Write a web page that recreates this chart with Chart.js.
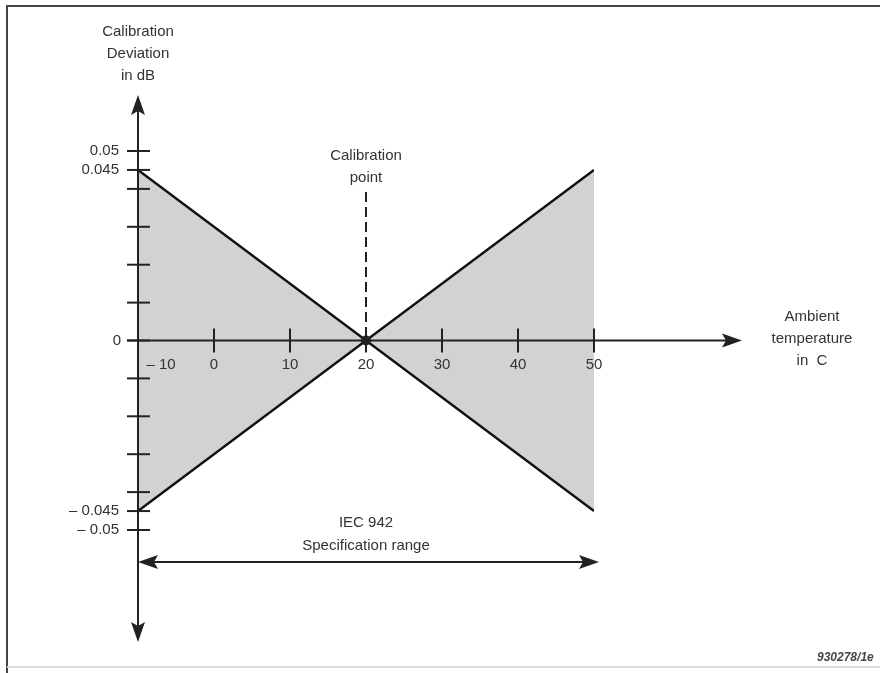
<!DOCTYPE html>
<html>
<head>
<meta charset="utf-8">
<script src="https://cdn.jsdelivr.net/npm/chart.js@4.4.1/dist/chart.umd.min.js"></script>
<style>
  html, body { margin: 0; padding: 0; background: #fff; }
  #wrap { width: 880px; height: 673px; position: relative; }
</style>
</head>
<body>
<div id="wrap"><canvas id="calChart"></canvas></div>
<script>
// Tolerance envelope of the calibration deviation
const envelopeTemps = [-10, 20, 50];
const upperLimit = [0.045, 0, 0.045];
const lowerLimit = [-0.045, 0, -0.045];

// Calibration point
const calibrationTemp = 20;
const calibrationDev = 0;

// Axis ticks
const xTickValues = [-10, 0, 10, 20, 30, 40, 50];
const xTickLabels = ['\u2013 10', '0', '10', '20', '30', '40', '50'];
const yLabeledTicks = [0.05, 0.045, 0, -0.045, -0.05];
const yTickLabels = ['0.05', '0.045', '0', '\u2013 0.045', '\u2013 0.05'];
const yMinorTicks = [0.04, 0.03, 0.02, 0.01, -0.01, -0.02, -0.03, -0.04];

// Specification range (IEC 942)
const specRange = [-10, 50];

const font = '"Liberation Sans", Arial, sans-serif';
const ink = '#222';
const textInk = '#333';

function arrowHead(ctx, x, y, dir, len, half) {
    // dir: 'up' | 'down' | 'left' | 'right'
    ctx.beginPath();
    if (dir === 'up') {
        ctx.moveTo(x, y); ctx.lineTo(x - half, y + len); ctx.lineTo(x, y + len * 0.8); ctx.lineTo(x + half, y + len);
    } else if (dir === 'down') {
        ctx.moveTo(x, y); ctx.lineTo(x - half, y - len); ctx.lineTo(x, y - len * 0.8); ctx.lineTo(x + half, y - len);
    } else if (dir === 'left') {
        ctx.moveTo(x, y); ctx.lineTo(x + len, y - half); ctx.lineTo(x + len * 0.8, y); ctx.lineTo(x + len, y + half);
    } else {
        ctx.moveTo(x, y); ctx.lineTo(x - len, y - half); ctx.lineTo(x - len * 0.8, y); ctx.lineTo(x - len, y + half);
    }
    ctx.closePath();
    ctx.fill();
}

const decorations = {
    id: 'decorations',
    afterDatasetsDraw(chart) {
        const ctx = chart.ctx;
        const xs = chart.scales.x;
        const ys = chart.scales.y;
        const x0 = xs.getPixelForValue(-10);
        const y0 = ys.getPixelForValue(0);

        ctx.save();
        ctx.strokeStyle = ink;
        ctx.fillStyle = ink;
        ctx.lineWidth = 2;

        // frame
        ctx.strokeStyle = '#444';
        ctx.beginPath();
        ctx.moveTo(7, 673);
        ctx.lineTo(7, 6);
        ctx.lineTo(880, 6);
        ctx.stroke();
        ctx.strokeStyle = '#ddd';
        ctx.beginPath();
        ctx.moveTo(7, 667);
        ctx.lineTo(880, 667);
        ctx.stroke();
        ctx.strokeStyle = ink;

        // y axis
        ctx.beginPath();
        ctx.moveTo(x0, 110);
        ctx.lineTo(x0, 628);
        ctx.stroke();
        arrowHead(ctx, x0, 95, 'up', 20, 7);
        arrowHead(ctx, x0, 642, 'down', 20, 7);

        // x axis
        ctx.beginPath();
        ctx.moveTo(x0 - 11, y0);
        ctx.lineTo(728, y0);
        ctx.stroke();
        arrowHead(ctx, 742, y0, 'right', 20, 7);

        // y ticks
        [...yLabeledTicks, ...yMinorTicks].forEach(v => {
            const py = ys.getPixelForValue(v);
            ctx.beginPath();
            ctx.moveTo(x0 - 11, py);
            ctx.lineTo(x0 + 12, py);
            ctx.stroke();
        });

        // x ticks
        xTickValues.forEach(v => {
            if (v === -10) return;
            const px = xs.getPixelForValue(v);
            ctx.beginPath();
            ctx.moveTo(px, y0 - 12);
            ctx.lineTo(px, y0 + 12);
            ctx.stroke();
        });

        // calibration dashed line
        const cx = xs.getPixelForValue(calibrationTemp);
        ctx.setLineDash([10, 5]);
        ctx.beginPath();
        ctx.moveTo(cx, 192);
        ctx.lineTo(cx, y0 + 12);
        ctx.stroke();
        ctx.setLineDash([]);

        // spec range arrow
        const sx1 = xs.getPixelForValue(specRange[0]);
        const sx2 = xs.getPixelForValue(specRange[1]) + 5;
        const sy = 562;
        ctx.beginPath();
        ctx.moveTo(sx1 + 12, sy);
        ctx.lineTo(sx2 - 12, sy);
        ctx.stroke();
        arrowHead(ctx, sx1, sy, 'left', 20, 7);
        arrowHead(ctx, sx2, sy, 'right', 20, 7);

        // calibration dot
        ctx.beginPath();
        ctx.arc(cx, ys.getPixelForValue(calibrationDev), 5, 0, Math.PI * 2);
        ctx.fill();

        // texts
        ctx.fillStyle = textInk;
        ctx.font = '15px ' + font;
        ctx.textBaseline = 'middle';

        ctx.textAlign = 'right';
        yLabeledTicks.forEach((v, i) => {
            ctx.fillText(yTickLabels[i], v === 0 ? 121 : 119, ys.getPixelForValue(v));
        });

        ctx.textAlign = 'center';
        xTickValues.forEach((v, i) => {
            const px = v === -10 ? 161 : xs.getPixelForValue(v);
            ctx.fillText(xTickLabels[i], px, 365);
        });

        ctx.fillText('Calibration', x0, 32);
        ctx.fillText('Deviation', x0, 54);
        ctx.fillText('in dB', x0, 76);

        ctx.fillText('Calibration', cx, 156);
        ctx.fillText('point', cx, 178);

        ctx.fillText('Ambient', 812, 317);
        ctx.fillText('temperature', 812, 339);
        ctx.fillText('in  C', 812, 361);

        ctx.fillText('IEC 942', cx, 523);
        ctx.fillText('Specification range', cx, 546);

        ctx.textAlign = 'left';
        ctx.fillStyle = '#444';
        ctx.font = 'italic bold 12px ' + font;
        ctx.fillText('930278/1e', 817, 658);

        ctx.restore();
    }
};

new Chart(document.getElementById('calChart'), {
    type: 'line',
    data: {
        datasets: [
            {
                label: 'Upper limit',
                data: envelopeTemps.map((t, i) => ({ x: t, y: upperLimit[i] })),
                borderColor: '#111',
                borderWidth: 2.5,
                fill: false,
                pointRadius: 0,
                tension: 0
            },
            {
                label: 'Lower limit',
                data: envelopeTemps.map((t, i) => ({ x: t, y: lowerLimit[i] })),
                borderColor: '#111',
                borderWidth: 2.5,
                backgroundColor: '#d2d2d2',
                fill: '-1',
                pointRadius: 0,
                tension: 0
            }
        ]
    },
    plugins: [decorations],
    options: {
        responsive: true,
        maintainAspectRatio: false,
        animation: false,
        layout: { padding: { left: 138, right: 286, top: 151, bottom: 143 } },
        scales: {
            x: { type: 'linear', min: -10, max: 50, display: false },
            y: { type: 'linear', min: -0.05, max: 0.05, display: false }
        },
        plugins: {
            legend: { display: false },
            tooltip: { enabled: false }
        }
    }
});
</script>
</body>
</html>
